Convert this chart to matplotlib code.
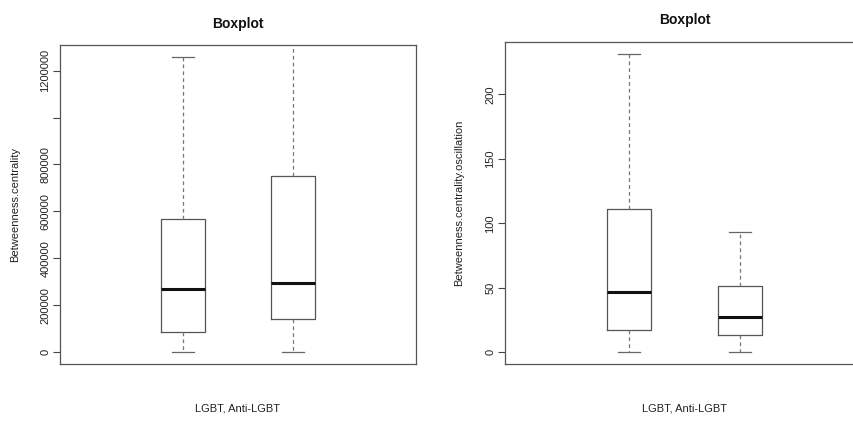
import matplotlib
matplotlib.use('Agg')
import matplotlib.pyplot as plt

plt.rcParams['font.family'] = ['Liberation Sans', 'DejaVu Sans']

# Dati (due gruppi: LGBT, Anti-LGBT)
gruppi = ['LGBT', 'Anti-LGBT']

# pannello sinistro: Betweenness.centrality
bc_min = [0, 0]
bc_q1 = [85000, 142000]
bc_med = [268000, 295000]
bc_q3 = [566000, 753000]
bc_max = [1257000, 1400000]

# pannello destro: Betweenness.centrality.oscillation
osc_min = [0, 0]
osc_q1 = [17.3, 13.2]
osc_med = [46.5, 27.4]
osc_q3 = [111, 51.4]
osc_max = [231, 93]

left_ticks = [0, 200000, 400000, 600000, 800000, 1000000, 1200000]
left_labels = ['0', '200000', '400000', '600000', '800000', '', '1200000']
right_ticks = [0, 50, 100, 150, 200]


def stats(lo, q1, med, q3, hi):
    s = []
    for i in range(len(gruppi)):
        s.append({'label': gruppi[i], 'whislo': lo[i], 'q1': q1[i], 'med': med[i],
                  'q3': q3[i], 'whishi': hi[i], 'fliers': []})
    return s


def disegna(ax, st, ylim, ticks, labels, ylabel, xlab):
    ax.bxp(st, positions=[1, 2], widths=0.4, showfliers=False,
           boxprops=dict(color='#555555', linewidth=0.9),
           medianprops=dict(color='#111111', linewidth=2.2),
           whiskerprops=dict(color='#777777', linewidth=0.9, linestyle=(0, (3, 2.5))),
           capprops=dict(color='#666666', linewidth=0.9))
    ax.set_xlim(-0.12, 3.12)
    ax.set_ylim(*ylim)
    ax.set_xticks([])
    ax.set_yticks(ticks)
    ax.set_yticklabels(labels, rotation=90, va='center', fontsize=8, color='#222222')
    ax.tick_params(axis='y', length=5, width=0.8, color='#444444', pad=2)
    for sp in ax.spines.values():
        sp.set_color('#555555')
        sp.set_linewidth(0.9)
    ax.set_ylabel(ylabel, fontsize=8, color='#222222')
    ax.yaxis.set_label_coords(xlab, 0.5)


fig = plt.figure(figsize=(8.54, 4.22), dpi=100)
ax1 = fig.add_axes([0.0703, 0.1374, 0.4168, 0.756])
ax2 = fig.add_axes([0.5913, 0.1374, 0.4204, 0.7624])

disegna(ax1, stats(bc_min, bc_q1, bc_med, bc_q3, bc_max), (-50000, 1309000),
        left_ticks, left_labels, 'Betweenness.centrality', -0.112)
disegna(ax2, stats(osc_min, osc_q1, osc_med, osc_q3, osc_max), (-9.1, 240.3),
        right_ticks, [str(t) for t in right_ticks], 'Betweenness.centrality.oscillation', -0.114)

# titoli ed etichette asse x
fig.text(238 / 854, 1 - 24 / 422, 'Boxplot', ha='center', va='center',
         fontsize=10, fontweight='bold', color='#111111')
fig.text(684.5 / 854, 1 - 20 / 422, 'Boxplot', ha='center', va='center',
         fontsize=10, fontweight='bold', color='#111111')
fig.text(238 / 854, 1 - 408.5 / 422, 'LGBT, Anti-LGBT', ha='center', va='center',
         fontsize=8, color='#222222')
fig.text(684.5 / 854, 1 - 408.5 / 422, 'LGBT, Anti-LGBT', ha='center', va='center',
         fontsize=8, color='#222222')

fig.savefig('out.png', dpi=100)
